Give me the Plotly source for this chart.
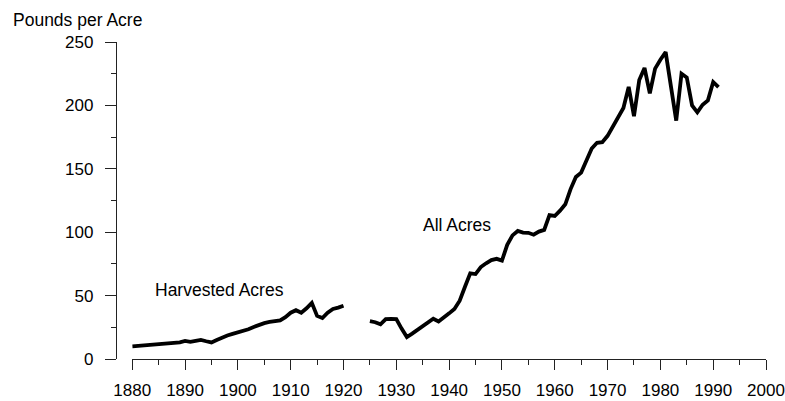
import plotly.graph_objects as go

# Harvested acres, 1880-1920
harv_years = list(range(1880, 1921))
harv_vals = [9.9, 10.2, 10.6, 11.0, 11.3, 11.6, 11.9, 12.3, 12.6, 13.1,
             14.3, 13.5, 14.3, 15.0, 14.0, 13.1, 15.0, 17.0, 18.5, 19.8,
             20.8, 22.0, 23.5, 25.3, 27.0, 28.3, 29.2, 29.6, 30.5, 33.0,
             36.5, 38.5, 36.5, 40.0, 44.3, 34.0, 32.3, 36.5, 39.5, 40.5,
             42.0]

# All acres, 1925-1991
all_years = list(range(1925, 1992))
all_vals = [29.8, 29.0, 27.3, 31.5, 31.7, 31.5, 24.0, 17.3, 20.0, 23.0,
            25.5, 28.3, 31.7, 29.6, 32.5, 36.0, 39.5, 46.0, 57.0, 67.5,
            67.0, 72.5, 75.5, 78.0, 79.0, 77.6, 90.0, 97.5, 101.0, 99.7,
            99.5, 98.0, 100.5, 101.8, 113.5, 112.8, 117.0, 122.0, 134.0, 143.5,
            147.0, 157.0, 166.0, 170.5, 171.0, 176.0, 183.0, 190.0, 198.0, 214.6,
            191.5, 220.0, 229.5, 209.5, 229.0, 236.0, 242.0, 215.0, 188.0, 225.0,
            222.0, 200.0, 194.5, 200.5, 204.0, 218.5, 214.5]

x_ticks = [1880, 1890, 1900, 1910, 1920, 1930, 1940, 1950, 1960, 1970, 1980, 1990, 2000]
y_ticks = [0, 50, 100, 150, 200, 250]

FONT = "Liberation Sans, Arial, sans-serif"
AX = "#222222"
FS = 17.5
TFS = 17

fig = go.Figure()
for xs, ys in [(harv_years, harv_vals), (all_years, all_vals)]:
    fig.add_trace(go.Scatter(x=xs, y=ys, mode="lines",
                             line=dict(color="black", width=3.8),
                             hoverinfo="skip", showlegend=False))

fig.update_layout(
    width=785, height=401,
    margin=dict(l=116, r=18.7, t=41.7, b=41.7),
    paper_bgcolor="white", plot_bgcolor="white",
    font=dict(family=FONT, size=FS, color="black"),
    showlegend=False,
    xaxis=dict(domain=[0.025, 1], range=[1880, 2000], automargin=False,
               tickvals=x_ticks, ticks="outside", ticklen=10, tickwidth=1.3,
               tickcolor=AX, showline=True, linecolor=AX, linewidth=1.3,
               showgrid=False, zeroline=False, ticklabelstandoff=5,
               ticklabeloverflow="allow",
               minor=dict(dtick=5, tick0=1880, ticks="outside", ticklen=5,
                          tickwidth=1.3, tickcolor=AX, showgrid=False),
               tickfont=dict(size=TFS)),
    yaxis=dict(anchor="free", position=0, domain=[0, 1], range=[0, 250],
               automargin=False,
               tickvals=y_ticks, ticks="outside", ticklen=11, tickwidth=1.3,
               tickcolor=AX, showline=True, linecolor=AX, linewidth=1.3,
               showgrid=False, zeroline=False, ticklabelstandoff=8,
               ticklabeloverflow="allow",
               minor=dict(dtick=25, tick0=0, ticks="outside", ticklen=5,
                          tickwidth=1.3, tickcolor=AX, showgrid=False),
               tickfont=dict(size=TFS)),
    annotations=[
        dict(text="Pounds per Acre", xref="paper", yref="paper",
             x=-0.1615, y=1.068, xanchor="left", yanchor="middle",
             showarrow=False, font=dict(size=FS)),
        dict(text="Harvested Acres", xref="x", yref="y",
             x=1883.9, y=54.5, xanchor="left", yanchor="middle",
             showarrow=False, font=dict(size=FS)),
        dict(text="All Acres", xref="x", yref="y",
             x=1934.6, y=105.7, xanchor="left", yanchor="middle",
             showarrow=False, font=dict(size=FS)),
    ],
)

# remove the browser's default 8px body margin so the figure fills the window
fig.write_html(
    "out.html",
    config={"displayModeBar": False},
    post_script="document.body.style.margin='0';"
                "document.documentElement.style.overflow='hidden';",
)
